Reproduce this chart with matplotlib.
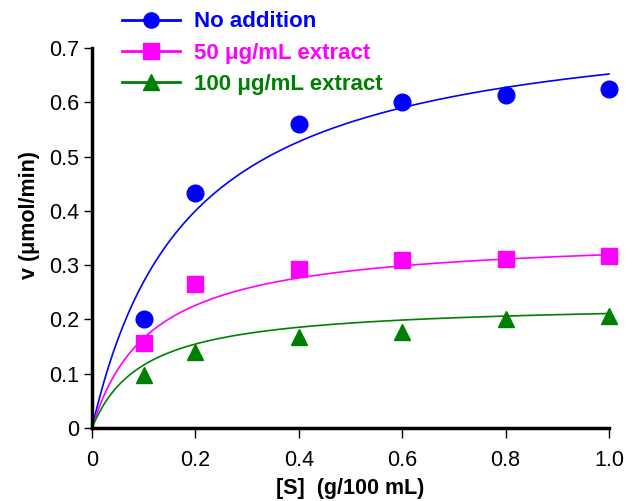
import numpy as np
import matplotlib
matplotlib.use("Agg")
import matplotlib.pyplot as plt
from matplotlib.lines import Line2D

plt.rcParams['font.family'] = ['Liberation Sans', 'DejaVu Sans']

# substrate concentration (g/100 mL)
S = [0.1, 0.2, 0.4, 0.6, 0.8, 1.0]

# measured rates (umol/min)
v_none = [0.200, 0.433, 0.560, 0.600, 0.614, 0.625]
v_50 = [0.157, 0.265, 0.293, 0.309, 0.311, 0.317]
v_100 = [0.098, 0.140, 0.168, 0.177, 0.200, 0.206]

# Michaelis-Menten fit parameters (Vmax, Km)
fit_none = (0.774, 0.187)
fit_50 = (0.356, 0.115)
fit_100 = (0.232, 0.100)

labels = ["No addition", "50 \u03bcg/mL extract", "100 \u03bcg/mL extract"]
colors = ["#0000ff", "#ff00ff", "#008000"]
markers = ["o", "s", "^"]

fig = plt.figure(figsize=(6.32, 5.01), dpi=100)
ax = fig.add_axes([92/632, 1 - 428/501, (609-92)/632, (428-48)/501])

s_fit = np.linspace(0, 1.0, 200)
series = [(v_none, fit_none), (v_50, fit_50), (v_100, fit_100)]
handles = []
for (vals, (vmax, km)), lab, c, m in zip(series, labels, colors, markers):
    ax.plot(s_fit, vmax*s_fit/(km+s_fit), color=c, lw=1.2, clip_on=False)
    ax.plot(S, vals, ls='none', marker=m, color=c, ms=12 if m != 's' else 11, clip_on=False)
    handles.append(Line2D([], [], color=c, lw=2, marker=m, ms=11))

ax.set_xlim(0, 1.0)
ax.set_ylim(0, 0.7)
ax.set_xticks([0, 0.2, 0.4, 0.6, 0.8, 1.0])
ax.set_xticklabels(["0", "0.2", "0.4", "0.6", "0.8", "1.0"])
ax.set_yticks([0, 0.1, 0.2, 0.3, 0.4, 0.5, 0.6, 0.7])
ax.set_yticklabels(["0", "0.1", "0.2", "0.3", "0.4", "0.5", "0.6", "0.7"])
ax.spines['top'].set_visible(False)
ax.spines['right'].set_visible(False)
ax.spines['left'].set_linewidth(2.5)
ax.spines['bottom'].set_linewidth(2.5)
ax.tick_params(direction='out', length=6, width=1, labelsize=15.5, pad=3)
ax.tick_params(axis='x', length=7, pad=9)

ax.set_xlabel("[S]  (g/100 mL)", fontsize=15.5, fontweight='bold', labelpad=5)
ax.set_ylabel("v (\u03bcmol/min)", fontsize=15.5, fontweight='bold')
ax.yaxis.set_label_coords(-0.10, 0.56)

leg = fig.legend(handles, labels, loc='upper left', bbox_to_anchor=(118/632, 0.986),
                 frameon=False, handlelength=2.6, handletextpad=0.6,
                 labelspacing=0.46, borderaxespad=0, borderpad=0.2,
                 prop={'size': 16, 'weight': 'bold'})
for t, c in zip(leg.get_texts(), colors):
    t.set_color(c)

fig.savefig("out.png", dpi=100)
